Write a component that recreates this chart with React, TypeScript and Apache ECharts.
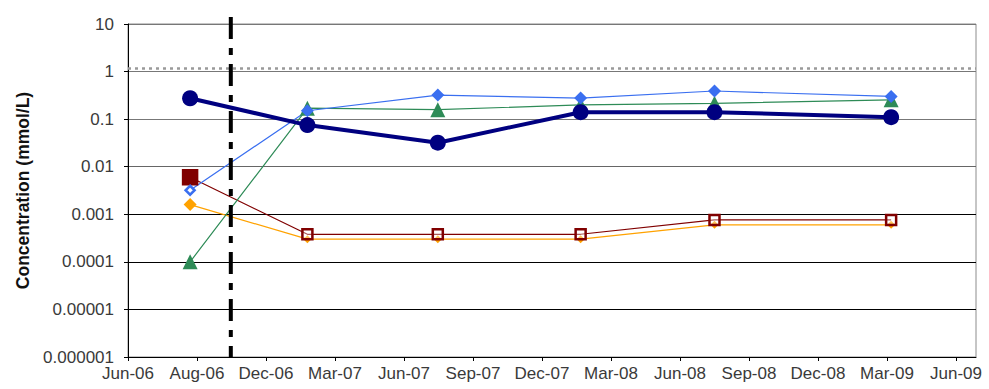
import React, { useEffect, useRef } from "react";
import * as echarts from "echarts";

// x positions in axis units (1 unit = one labelled tick interval)
const sampleX = [0.9, 2.6, 4.49, 6.56, 8.5, 11.06];
const xLabels = [
  "Jun-06", "Aug-06", "Dec-06", "Mar-07", "Jun-07", "Sep-07", "Dec-07",
  "Mar-08", "Jun-08", "Sep-08", "Dec-08", "Mar-09", "Jun-09",
];
const yLabels = ["0.000001", "0.00001", "0.0001", "0.001", "0.01", "0.1", "1", "10"];

const navyValues = [0.275, 0.075, 0.032, 0.14, 0.14, 0.11];
const blueValues = [0.0032, 0.15, 0.32, 0.277, 0.39, 0.3];
const greenValues = [0.0001, 0.17, 0.158, 0.2, 0.215, 0.255];
const redValues = [0.006, 0.00038, 0.00038, 0.00038, 0.00076, 0.00076];
const orangeValues = [0.0016, 0.0003, 0.0003, 0.0003, 0.0006, 0.0006];

const limitValue = 1.15;
const dividerX = 1.49;
const xMax = 12.29;

const pairs = (vals: number[]) => vals.map((v, i) => [sampleX[i], v]);

export default function App() {
  const ref = useRef<HTMLDivElement>(null);
  useEffect(() => {
    document.body.style.margin = "0";
    const chart = echarts.init(ref.current!, null, { renderer: "svg" });
    const font = "'Liberation Sans', Arial, sans-serif";
    chart.setOption({
      animation: false,
      backgroundColor: "#ffffff",
      grid: {
        left: 128,
        top: 24,
        right: 13,
        bottom: 32,
        show: true,
        borderColor: "#8c8c8c",
        borderWidth: 1,
      },
      xAxis: {
        type: "value",
        min: 0,
        max: xMax,
        interval: 1,
        axisLine: { show: true, lineStyle: { color: "#000", width: 1 } },
        axisTick: { show: true, length: 4, lineStyle: { color: "#000" } },
        splitLine: { show: false },
        axisLabel: {
          color: "#3a3a3a",
          fontFamily: font,
          fontSize: 17,
          margin: 8,
          showMaxLabel: false,
          formatter: (v: number) => xLabels[Math.round(v)] ?? "",
        },
      },
      yAxis: {
        type: "log",
        logBase: 10,
        min: 1e-6,
        max: 10,
        name: "Concentration (mmol/L)",
        nameLocation: "middle",
        nameGap: 95,
        nameTextStyle: {
          fontFamily: font,
          fontWeight: "bold",
          fontSize: 17.5,
          color: "#111",
        },
        axisLine: { show: true, lineStyle: { color: "#000", width: 1 } },
        axisTick: { show: true, length: 4, lineStyle: { color: "#000" } },
        minorTick: { show: false },
        splitLine: {
          show: true,
          lineStyle: {
            color: ["#000", "#000", "#000", "#000", "#666", "#777", "#777", "#777"],
            width: 1,
          },
        },
        axisLabel: {
          color: "#3a3a3a",
          fontFamily: font,
          fontSize: 17,
          margin: 14,
          formatter: (v: number) => yLabels[Math.round(Math.log10(v)) + 6] ?? "",
        },
      },
      series: [
        {
          name: "orange",
          type: "line",
          data: pairs(orangeValues).map((d, i) => ({ value: d, symbolSize: i === 0 ? 13 : 8 })),
          symbol: "diamond",
          lineStyle: { color: "#FFA200", width: 1.2 },
          itemStyle: { color: "#FFA200" },
          markLine: {
            silent: true,
            symbol: "none",
            label: { show: false },
            lineStyle: { color: "#9a9a9a", width: 2.5, type: [3, 4] },
            data: [{ yAxis: limitValue }],
          },
        },
        {
          name: "red",
          type: "line",
          data: pairs(redValues).map((d, i) =>
            i === 0
              ? { value: d, symbolSize: 14, itemStyle: { color: "#800000", borderColor: "#800000" } }
              : { value: d, symbolSize: 10 }
          ),
          symbol: "rect",
          lineStyle: { color: "#800000", width: 1.2 },
          itemStyle: { color: "rgba(255,255,255,0.35)", borderColor: "#800000", borderWidth: 2.5 },
        },
        {
          name: "green",
          type: "line",
          data: pairs(greenValues),
          symbol: "triangle",
          symbolSize: 15,
          lineStyle: { color: "#2E8B57", width: 1.2 },
          itemStyle: { color: "#2E8B57" },
        },
        {
          name: "blue",
          type: "line",
          data: pairs(blueValues).map((d, i) =>
            i === 0
              ? { value: d, symbolSize: 9, itemStyle: { color: "#fff", borderColor: "#3A6FF0", borderWidth: 2.5 } }
              : { value: d, symbolSize: 13 }
          ),
          symbol: "diamond",
          lineStyle: { color: "#3A6FF0", width: 1.2 },
          itemStyle: { color: "#3A6FF0" },
        },
        {
          name: "navy",
          type: "line",
          data: pairs(navyValues),
          symbol: "circle",
          symbolSize: 16,
          lineStyle: { color: "#000080", width: 4 },
          itemStyle: { color: "#000080" },
        },
      ],
    });
    const top = chart.convertToPixel({ gridIndex: 0 }, [dividerX, 10]) as number[];
    const bottom = chart.convertToPixel({ gridIndex: 0 }, [dividerX, 1e-6]) as number[];
    chart.setOption({
      graphic: [
        {
          type: "line",
          z: 100,
          shape: { x1: top[0], y1: top[1] - 7, x2: bottom[0], y2: bottom[1] },
          style: { stroke: "#000", lineWidth: 4, lineDash: [22, 9, 7, 9] },
        },
      ],
    });
    return () => chart.dispose();
  }, []);
  return <div ref={ref} style={{ width: 989, height: 389 }} />;
}
